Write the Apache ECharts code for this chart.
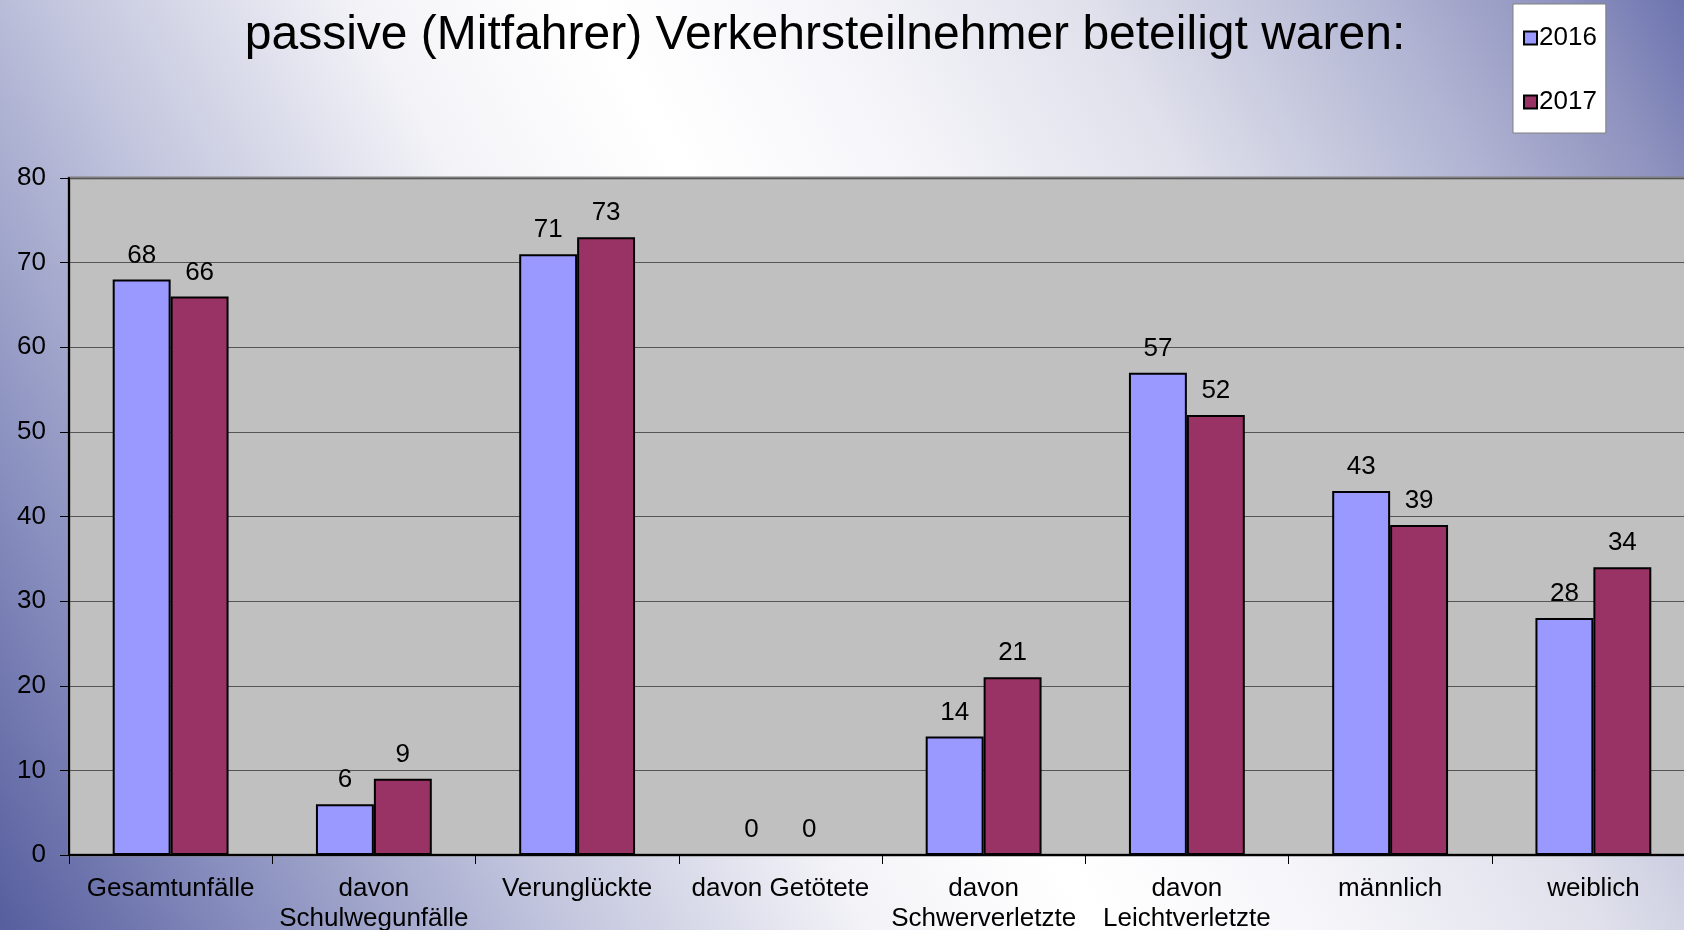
<!DOCTYPE html>
<html>
<head>
<meta charset="utf-8">
<script src="https://cdn.jsdelivr.net/npm/echarts@6/dist/echarts.min.js"></script>
<style>
  html, body { margin: 0; padding: 0; }
  #chart { width: 1684px; height: 930px; }
</style>
</head>
<body>
<div id="chart"></div>
<script>
// Kategorien und Werte
const categories = [
  'Gesamtunfälle',
  'davon\nSchulwegunfälle',
  'Verunglückte',
  'davon Getötete',
  'davon\nSchwerverletzte',
  'davon\nLeichtverletzte',
  'männlich',
  'weiblich'
]
const values2016 = [68, 6, 71, 0, 14, 57, 43, 28]
const values2017 = [66, 9, 73, 0, 21, 52, 39, 34]
const yTicks = { min: 0, max: 80, interval: 10 }

const chart = echarts.init(document.getElementById('chart'))

const font = 'Liberation Sans, Arial, sans-serif'

const option = {
  // diagonaler Verlauf: unten links / oben rechts blau, Mitte weiss
  backgroundColor: {
    type: 'linear', x: 0, y: 1, x2: 1, y2: 0,
    colorStops: [
      { offset: 0, color: '#565e9e' },
      { offset: 0.12, color: '#8a90bf' },
      { offset: 0.25, color: '#c0c3dc' },
      { offset: 0.4, color: '#f4f4f8' },
      { offset: 0.5, color: '#ffffff' },
      { offset: 0.6, color: '#f6f6fa' },
      { offset: 0.73, color: '#dfe0eb' },
      { offset: 0.86, color: '#b2b5d3' },
      { offset: 0.945, color: '#8e92be' },
      { offset: 1, color: '#6c74b0' }
    ]
  },
  textStyle: { fontFamily: font },
  title: {
    text: 'passive (Mitfahrer) Verkehrsteilnehmer beteiligt waren:',
    left: 820,
    top: 7,
    textAlign: 'center',
    textStyle: { fontSize: 48, fontWeight: 'normal', color: '#000', fontFamily: font }
  },
  legend: {
    orient: 'vertical',
    left: 1513,
    top: 4,
    padding: [21, 9, 18, 10],
    itemGap: 38,
    itemWidth: 13,
    itemHeight: 13,
    icon: 'rect',
    backgroundColor: '#ffffff',
    borderColor: '#808080',
    borderWidth: 1,
    borderRadius: 0,
    textStyle: { fontSize: 26, color: '#000', padding: [0, 0, 0, -3] },
    itemStyle: { borderColor: '#000', borderWidth: 2 },
    data: ['2016', '2017']
  },
  grid: {
    left: 69,
    top: 178,
    bottom: 75,
    width: 1626,
    outerBoundsMode: 'none',
    containLabel: false,
    show: true,
    backgroundColor: '#c0c0c0',
    borderColor: '#7f7f7f',
    borderWidth: 3
  },
  xAxis: {
    type: 'category',
    data: categories,
    axisLine: { lineStyle: { color: '#000', width: 2 } },
    axisTick: { show: true, length: 9, lineStyle: { color: '#000' } },
    axisLabel: {
      color: '#000',
      fontSize: 26,
      margin: 19,
      lineHeight: 30,
      interval: 0
    }
  },
  yAxis: {
    type: 'value',
    min: yTicks.min,
    max: yTicks.max,
    interval: yTicks.interval,
    axisLine: { show: true, lineStyle: { color: '#000', width: 2 } },
    axisTick: { show: true, length: 9, lineStyle: { color: '#000' } },
    axisLabel: { color: '#000', fontSize: 26, margin: 23 },
    splitLine: { lineStyle: { color: '#555', width: 1 } }
  },
  series: [
    {
      name: '2016',
      type: 'bar',
      data: values2016,
      barGap: '0%',
      barCategoryGap: '43%',
      itemStyle: { color: '#9999ff', borderColor: '#000', borderWidth: 2 },
      label: { show: true, position: 'top', distance: 11, color: '#000', fontSize: 26 }
    },
    {
      name: '2017',
      type: 'bar',
      data: values2017,
      itemStyle: { color: '#993366', borderColor: '#000', borderWidth: 2 },
      label: { show: true, position: 'top', distance: 11, color: '#000', fontSize: 26 }
    }
  ]
}

chart.setOption(option)
</script>
</body>
</html>
